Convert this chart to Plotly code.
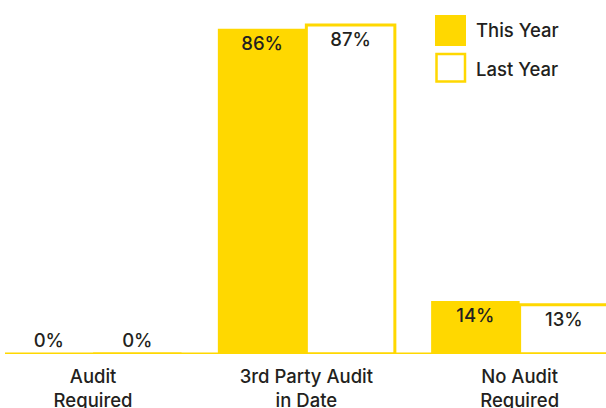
import plotly.graph_objects as go

categories = ["Audit<br>Required", "3rd Party Audit<br>in Date", "No Audit<br>Required"]
this_year = [0, 86, 14]
last_year = [0, 87, 13]
series_names = ["This Year", "Last Year"]

YEL = "#FFD800"
TXT = "#231F20"
FONT = "Inter"
FS = 18.5
FW = 500

x = list(range(len(categories)))

def pos(vals):
    return ["outside" if v == 0 else "inside" for v in vals]

fig = go.Figure()
fig.add_trace(go.Bar(
    x=x, y=this_year, name=series_names[0],
    marker=dict(color=YEL, line=dict(width=0)),
    text=[f"{v}%" for v in this_year], textposition=pos(this_year),
    insidetextanchor="end", cliponaxis=False,
    textfont=dict(size=FS, color=TXT, family=FONT, weight=FW),
))
fig.add_trace(go.Bar(
    x=x, y=last_year, name=series_names[1],
    marker=dict(color="white", line=dict(width=3, color=YEL)),
    text=[f"{v}%" for v in last_year], textposition=pos(last_year),
    insidetextanchor="end", cliponaxis=False,
    textfont=dict(size=FS, color=TXT, family=FONT, weight=FW),
))

fig.update_layout(
    width=606, height=408,
    margin=dict(l=5, r=0, t=0, b=54, autoexpand=False),
    paper_bgcolor="white", plot_bgcolor="white",
    barmode="group", bargap=0.17, bargroupgap=0,
    showlegend=False,
    font=dict(family=FONT, color=TXT, size=FS, weight=FW),
    xaxis=dict(
        tickvals=x, ticktext=categories, range=[-0.413, 2.405],
        showgrid=False, zeroline=False, showline=False, ticks="",
        ticklabelstandoff=9, automargin=False,
        tickfont=dict(size=FS, color=TXT, family=FONT, weight=FW),
    ),
    yaxis=dict(
        range=[0, 93.6], visible=False, showgrid=False, zeroline=False,
        automargin=False,
    ),
)

# baseline
fig.add_shape(type="line", xref="paper", yref="y", x0=0, x1=1, y0=0, y1=0,
              line=dict(color=YEL, width=3))

# custom legend
fig.add_shape(type="rect", xref="paper", yref="paper",
              x0=(435 - 5) / 601, x1=(466 - 5) / 601,
              y0=1 - 46 / 354, y1=1 - 15 / 354,
              fillcolor=YEL, line=dict(width=0))
fig.add_shape(type="rect", xref="paper", yref="paper",
              x0=(436.5 - 5) / 601, x1=(465 - 5) / 601,
              y0=1 - 81.5 / 354, y1=1 - 54 / 354,
              fillcolor="white", line=dict(width=2.5, color=YEL))
for name, yc in zip(series_names, [30, 69]):
    fig.add_annotation(xref="paper", yref="paper",
                       x=(474 - 5) / 601, y=1 - yc / 354,
                       text=name, showarrow=False, xanchor="left", yanchor="middle",
                       font=dict(size=FS, color=TXT, family=FONT, weight=FW))

fig.write_html("out.html")
